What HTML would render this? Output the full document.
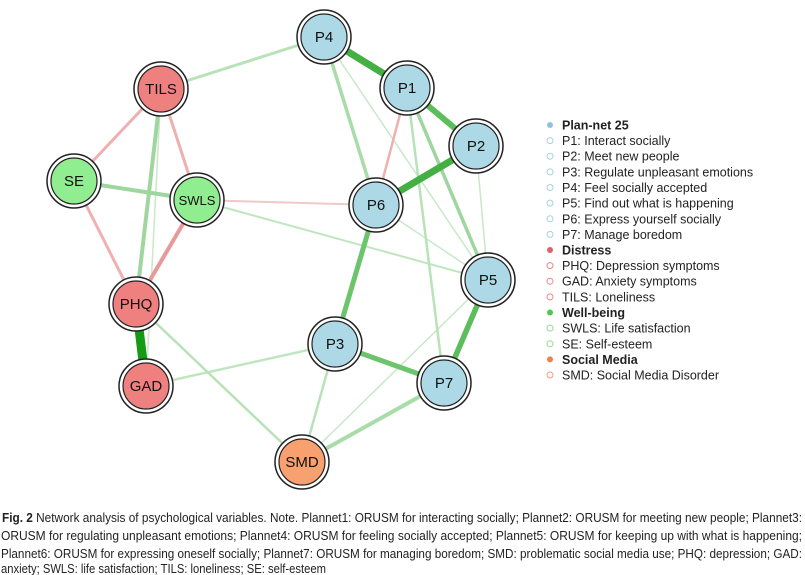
<!DOCTYPE html>
<html><head><meta charset="utf-8"><style>
html,body{margin:0;padding:0;background:#fff;width:805px;height:575px;overflow:hidden}
svg{display:block}
.n text{font-family:"Liberation Sans",sans-serif;font-size:15px;text-anchor:middle;fill:#111}
.lg{font-family:"Liberation Sans",sans-serif;font-size:12.5px;fill:#222}
.cap{font-family:"Liberation Sans",sans-serif;font-size:12.5px;fill:#222}
</style></head><body>
<svg width="805" height="575" viewBox="0 0 805 575">
<g stroke-linecap="butt">
<line x1="324" y1="37" x2="488" y2="280" stroke="#c8e8c8" stroke-width="1.5"/>
<line x1="476" y1="146" x2="488" y2="280" stroke="#c8e8c8" stroke-width="1.5"/>
<line x1="376" y1="205" x2="488" y2="280" stroke="#c8e8c8" stroke-width="1.5"/>
<line x1="407" y1="88" x2="488" y2="280" stroke="#c8e8c8" stroke-width="1.5"/>
<line x1="197" y1="200" x2="488" y2="280" stroke="#c0e6c0" stroke-width="2"/>
<line x1="197" y1="200" x2="376" y2="205" stroke="#f2c8c8" stroke-width="2"/>
<line x1="488" y1="280" x2="302" y2="462" stroke="#c8e8c8" stroke-width="1.5"/>
<line x1="161" y1="89" x2="146" y2="386" stroke="#c8e8c8" stroke-width="1.5"/>
<line x1="146" y1="386" x2="335" y2="344" stroke="#c0e6c0" stroke-width="2.5"/>
<line x1="136" y1="304" x2="302" y2="462" stroke="#b8e2b8" stroke-width="2.5"/>
<line x1="335" y1="344" x2="302" y2="462" stroke="#b8e2b8" stroke-width="2.5"/>
<line x1="407" y1="88" x2="444" y2="383" stroke="#b8e2b8" stroke-width="2.5"/>
<line x1="407" y1="88" x2="376" y2="205" stroke="#eeb0b0" stroke-width="2.5"/>
<line x1="324" y1="37" x2="161" y2="89" stroke="#b8e2b8" stroke-width="3"/>
<line x1="324" y1="37" x2="376" y2="205" stroke="#a8dca8" stroke-width="3.5"/>
<line x1="407" y1="88" x2="488" y2="280" stroke="#9fd69f" stroke-width="3.5"/>
<line x1="444" y1="383" x2="302" y2="462" stroke="#a8dca8" stroke-width="4"/>
<line x1="161" y1="89" x2="74" y2="181" stroke="#eeb0b0" stroke-width="3"/>
<line x1="161" y1="89" x2="197" y2="200" stroke="#eeb0b0" stroke-width="3"/>
<line x1="74" y1="181" x2="136" y2="304" stroke="#eeb0b0" stroke-width="3"/>
<line x1="197" y1="200" x2="136" y2="304" stroke="#e89a9a" stroke-width="4"/>
<line x1="74" y1="181" x2="197" y2="200" stroke="#9fd69f" stroke-width="4"/>
<line x1="161" y1="89" x2="136" y2="304" stroke="#9fd69f" stroke-width="4"/>
<line x1="376" y1="205" x2="335" y2="344" stroke="#6cc46c" stroke-width="5"/>
<line x1="335" y1="344" x2="444" y2="383" stroke="#6cc46c" stroke-width="5"/>
<line x1="488" y1="280" x2="444" y2="383" stroke="#5cbd5c" stroke-width="5.5"/>
<line x1="407" y1="88" x2="476" y2="146" stroke="#5cbd5c" stroke-width="6"/>
<line x1="476" y1="146" x2="376" y2="205" stroke="#44b044" stroke-width="7"/>
<line x1="324" y1="37" x2="407" y2="88" stroke="#44b044" stroke-width="7"/>
<line x1="136" y1="304" x2="146" y2="386" stroke="#159a15" stroke-width="9"/>
</g>
<g class="n">
<g transform="translate(324,37)"><circle r="27" fill="#fff" stroke="#222" stroke-width="1.5"/><circle r="23" fill="#add8e6" stroke="#222" stroke-width="1.2"/><text y="5">P4</text></g>
<g transform="translate(407,88)"><circle r="27" fill="#fff" stroke="#222" stroke-width="1.5"/><circle r="23" fill="#add8e6" stroke="#222" stroke-width="1.2"/><text y="5">P1</text></g>
<g transform="translate(476,146)"><circle r="27" fill="#fff" stroke="#222" stroke-width="1.5"/><circle r="23" fill="#add8e6" stroke="#222" stroke-width="1.2"/><text y="5">P2</text></g>
<g transform="translate(376,205)"><circle r="27" fill="#fff" stroke="#222" stroke-width="1.5"/><circle r="23" fill="#add8e6" stroke="#222" stroke-width="1.2"/><text y="5">P6</text></g>
<g transform="translate(488,280)"><circle r="27" fill="#fff" stroke="#222" stroke-width="1.5"/><circle r="23" fill="#add8e6" stroke="#222" stroke-width="1.2"/><text y="5">P5</text></g>
<g transform="translate(335,344)"><circle r="27" fill="#fff" stroke="#222" stroke-width="1.5"/><circle r="23" fill="#add8e6" stroke="#222" stroke-width="1.2"/><text y="5">P3</text></g>
<g transform="translate(444,383)"><circle r="27" fill="#fff" stroke="#222" stroke-width="1.5"/><circle r="23" fill="#add8e6" stroke="#222" stroke-width="1.2"/><text y="5">P7</text></g>
<g transform="translate(161,89)"><circle r="27" fill="#fff" stroke="#222" stroke-width="1.5"/><circle r="23" fill="#ef8080" stroke="#222" stroke-width="1.2"/><text y="5">TILS</text></g>
<g transform="translate(74,181)"><circle r="27" fill="#fff" stroke="#222" stroke-width="1.5"/><circle r="23" fill="#90ee90" stroke="#222" stroke-width="1.2"/><text y="5">SE</text></g>
<g transform="translate(197,200)"><circle r="27" fill="#fff" stroke="#222" stroke-width="1.5"/><circle r="23" fill="#90ee90" stroke="#222" stroke-width="1.2"/><text y="5" style="font-size:13px">SWLS</text></g>
<g transform="translate(136,304)"><circle r="27" fill="#fff" stroke="#222" stroke-width="1.5"/><circle r="23" fill="#ef8080" stroke="#222" stroke-width="1.2"/><text y="5">PHQ</text></g>
<g transform="translate(146,386)"><circle r="27" fill="#fff" stroke="#222" stroke-width="1.5"/><circle r="23" fill="#ef8080" stroke="#222" stroke-width="1.2"/><text y="5">GAD</text></g>
<g transform="translate(302,462)"><circle r="27" fill="#fff" stroke="#222" stroke-width="1.5"/><circle r="23" fill="#f9a070" stroke="#222" stroke-width="1.2"/><text y="5">SMD</text></g>
</g>
<g class="lg">
<circle cx="550" cy="125" r="3" fill="#8ec4dc"/><text x="562" y="129.5" font-weight="bold">Plan-net 25</text>
<circle cx="550" cy="140.6" r="3" fill="none" stroke="#a8d0e0"/><text x="562" y="145">P1: Interact socially</text>
<circle cx="550" cy="156.2" r="3" fill="none" stroke="#a8d0e0"/><text x="562" y="160.7">P2: Meet new people</text>
<circle cx="550" cy="171.9" r="3" fill="none" stroke="#a8d0e0"/><text x="562" y="176.4">P3: Regulate unpleasant emotions</text>
<circle cx="550" cy="187.5" r="3" fill="none" stroke="#a8d0e0"/><text x="562" y="192">P4: Feel socially accepted</text>
<circle cx="550" cy="203.1" r="3" fill="none" stroke="#a8d0e0"/><text x="562" y="207.6">P5: Find out what is happening</text>
<circle cx="550" cy="218.8" r="3" fill="none" stroke="#a8d0e0"/><text x="562" y="223.3">P6: Express yourself socially</text>
<circle cx="550" cy="234.4" r="3" fill="none" stroke="#a8d0e0"/><text x="562" y="238.9">P7: Manage boredom</text>
<circle cx="550" cy="250" r="3" fill="#e0606a"/><text x="562" y="254.5" font-weight="bold">Distress</text>
<circle cx="550" cy="265.6" r="3" fill="none" stroke="#e88a8a"/><text x="562" y="270.1">PHQ: Depression symptoms</text>
<circle cx="550" cy="281.2" r="3" fill="none" stroke="#e88a8a"/><text x="562" y="285.7">GAD: Anxiety symptoms</text>
<circle cx="550" cy="296.9" r="3" fill="none" stroke="#e88a8a"/><text x="562" y="301.4">TILS: Loneliness</text>
<circle cx="550" cy="312.5" r="3" fill="#50c850"/><text x="562" y="317" font-weight="bold">Well-being</text>
<circle cx="550" cy="328.1" r="3" fill="none" stroke="#90dc90"/><text x="562" y="332.6">SWLS: Life satisfaction</text>
<circle cx="550" cy="343.8" r="3" fill="none" stroke="#90dc90"/><text x="562" y="348.3">SE: Self-esteem</text>
<circle cx="550" cy="359.4" r="3" fill="#f08050"/><text x="562" y="363.9" font-weight="bold">Social Media</text>
<circle cx="550" cy="375" r="3" fill="none" stroke="#f0a080"/><text x="562" y="379.5">SMD: Social Media Disorder</text>
</g>
<g class="cap">
<text x="2" y="522" textLength="800" lengthAdjust="spacingAndGlyphs"><tspan font-weight="bold">Fig. 2</tspan>  Network analysis of psychological variables. Note. Plannet1: ORUSM for interacting socially; Plannet2: ORUSM for meeting new people; Plannet3:</text>
<text x="1" y="540" textLength="801" lengthAdjust="spacingAndGlyphs">ORUSM for regulating unpleasant emotions; Plannet4: ORUSM for feeling socially accepted; Plannet5: ORUSM for keeping up with what is happening;</text>
<text x="1" y="558" textLength="801" lengthAdjust="spacingAndGlyphs">Plannet6: ORUSM for expressing oneself socially; Plannet7: ORUSM for managing boredom; SMD: problematic social media use; PHQ: depression; GAD:</text>
<text x="1" y="573" textLength="325" lengthAdjust="spacingAndGlyphs">anxiety; SWLS: life satisfaction; TILS: loneliness; SE: self-esteem</text>
</g>
</svg>
</body></html>
